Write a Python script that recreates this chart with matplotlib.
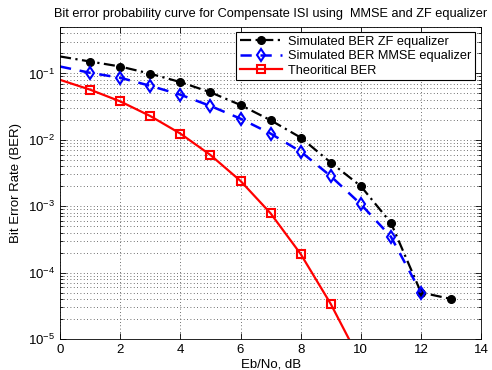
import numpy as np
import matplotlib
matplotlib.use('Agg')
import matplotlib.pyplot as plt
from matplotlib.ticker import LogLocator, NullFormatter

plt.rcParams['font.family'] = ['Liberation Sans', 'DejaVu Sans']
plt.rcParams['mathtext.fontset'] = 'custom'
plt.rcParams['mathtext.rm'] = 'Liberation Sans'

# データ
ebno = [0, 1, 2, 3, 4, 5, 6, 7, 8, 9, 10, 11, 12, 13]
ber_zf = [0.18, 0.151, 0.127, 0.099, 0.074, 0.052, 0.0334, 0.0197, 0.0108,
          0.00454, 0.0020, 5.6e-4, 5.0e-5, 4.0e-5]
ebno_mmse = [0, 1, 2, 3, 4, 5, 6, 7, 8, 9, 10, 11, 12]
ber_mmse = [0.127, 0.102, 0.086, 0.065, 0.0478, 0.0323, 0.0208, 0.0124,
            0.00664, 0.00283, 0.00107, 3.46e-4, 4.97e-5]
ebno_th = [0, 1, 2, 3, 4, 5, 6, 7, 8, 9, 10]
ber_th = [0.080, 0.0569, 0.0379, 0.0228, 0.0124, 0.0059, 0.0024, 7.8e-4,
          1.9e-4, 3.36e-5, 4.5e-6]

fig = plt.figure(figsize=(4.92, 3.70), dpi=100)
ax = fig.add_axes([0.122, 0.084, 0.856, 0.843])

ax.semilogy(ebno, ber_zf, color='k', lw=1.6, dashes=(5, 2, 1, 2),
            marker='o', ms=5.5, mfc='k', mec='k', markevery=slice(1, None),
            label='Simulated BER ZF equalizer')
ax.semilogy(ebno_mmse, ber_mmse, color='b', lw=1.8, dashes=(4.5, 3.5),
            marker='d', ms=6.5, mfc='none', mec='b', mew=1.5,
            markevery=slice(1, None), label='Simulated BER MMSE equalizer')
ax.semilogy(ebno_th, ber_th, '-', color='r', lw=1.6, marker='s', ms=6,
            mfc='none', mec='r', mew=1.5, markevery=slice(1, None),
            label='Theoritical BER')

ax.set_xlim(0, 14)
ax.set_ylim(1e-5, 0.5)
ax.set_xticks(range(0, 15, 2))
ax.yaxis.set_major_locator(LogLocator(base=10, numticks=10))
ax.yaxis.set_minor_locator(LogLocator(base=10, subs=np.arange(2, 10), numticks=20))
ax.yaxis.set_minor_formatter(NullFormatter())

grid_style = dict(linestyle=(0, (1, 3)), color='0.25', lw=0.6)
ax.grid(True, which='major', **grid_style)
ax.grid(True, which='minor', axis='y', **grid_style)
ax.tick_params(which='both', direction='in', top=True, right=True, labelsize=9.5)
ax.tick_params(which='major', length=4, width=0.6)
ax.tick_params(which='minor', length=2, width=0.6)
for s in ax.spines.values():
    s.set_linewidth(0.6)

ax.set_xlabel('Eb/No, dB', fontsize=9.5, labelpad=2)
ax.set_ylabel('Bit Error Rate (BER)', fontsize=9.5)
ax.set_title('Bit error probability curve for Compensate ISI using  MMSE and ZF equalizer',
             fontsize=9.2, pad=7)

leg = ax.legend(loc='upper right', fontsize=9.2, handlelength=3.3,
                fancybox=False, edgecolor='k', framealpha=1,
                borderpad=0.3, labelspacing=0.2, handletextpad=0.5,
                borderaxespad=0, bbox_to_anchor=(0.986, 0.985))
leg.get_frame().set_linewidth(0.8)

fig.savefig('out.png', dpi=100)
